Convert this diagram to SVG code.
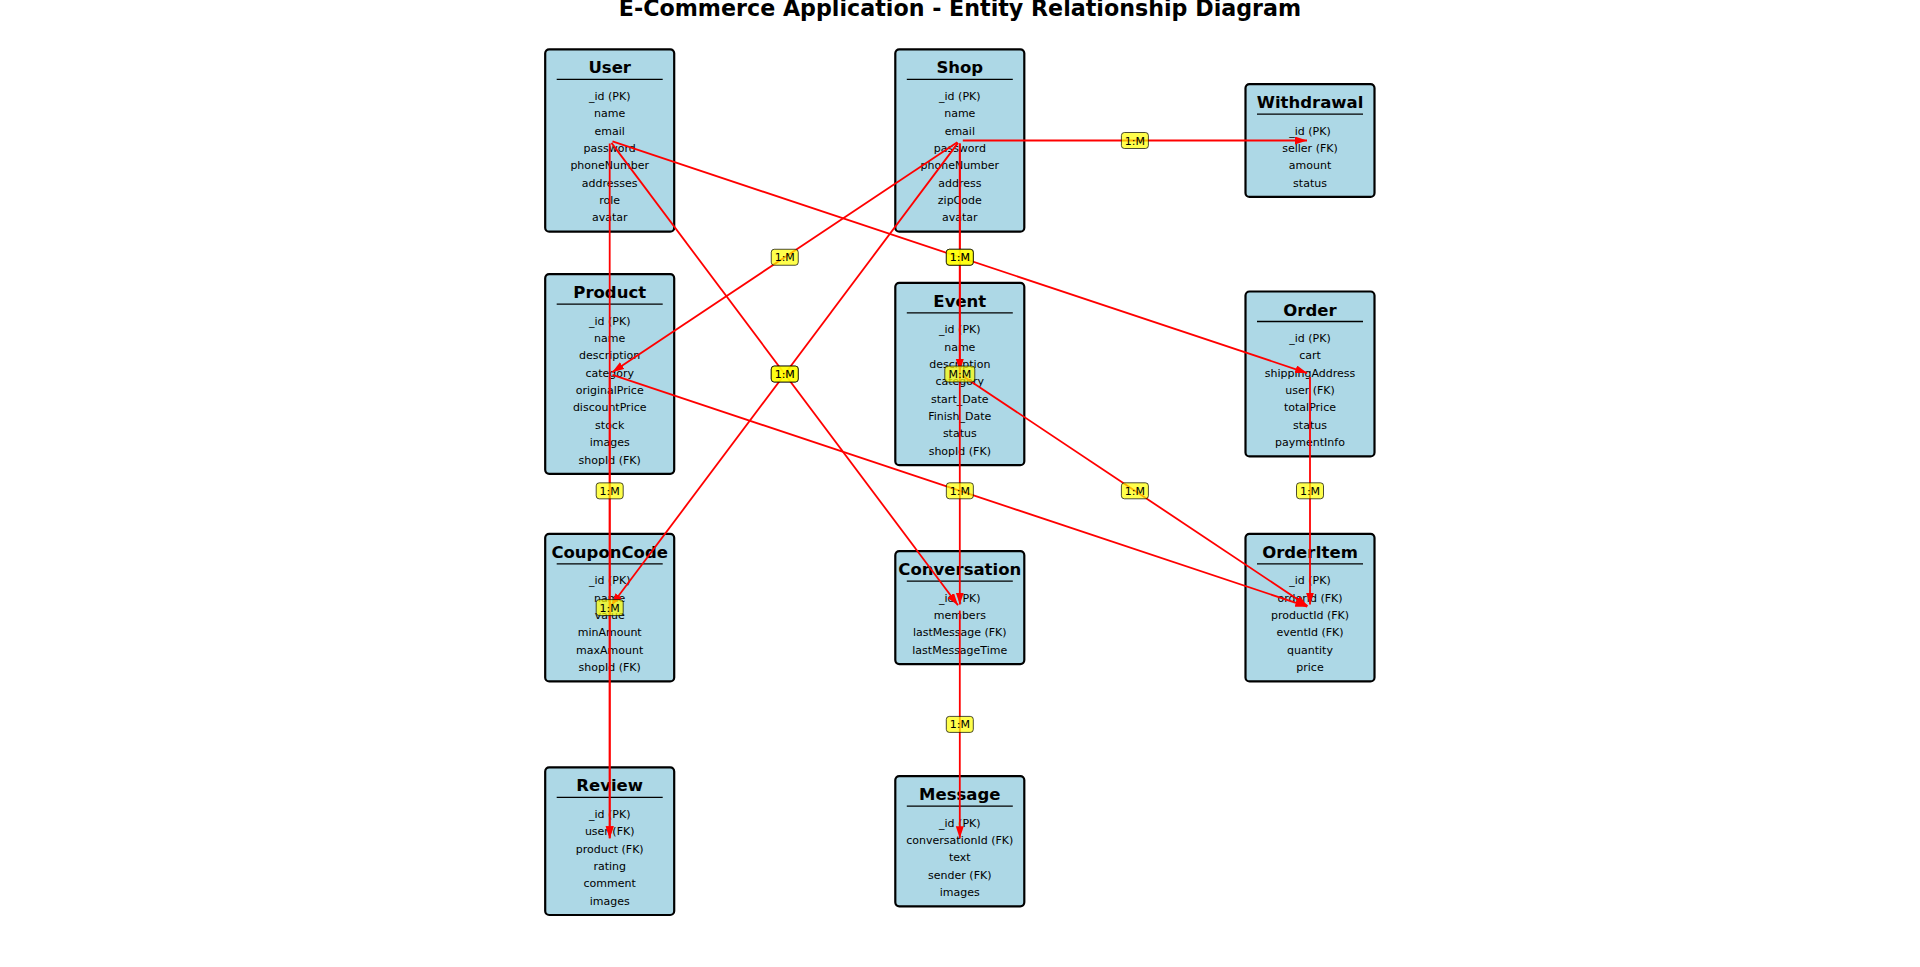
<svg xmlns="http://www.w3.org/2000/svg" width="1920" height="967" viewBox="0 0 1920 967">
<style>
.box{fill:#add8e6;stroke:#000;stroke-width:2.2}
.ul{stroke:#000;stroke-width:1.3}
.ttl{font-family:"DejaVu Sans",sans-serif;font-weight:bold;font-size:16.5px;text-anchor:middle;fill:#000}
.fld{font-family:"DejaVu Sans",sans-serif;font-size:11px;text-anchor:middle;fill:#000}
.ln{stroke:#ff0000;stroke-width:1.8;fill:none;marker-end:url(#ah)}
.lb{fill:#ffff00;fill-opacity:0.7;stroke:#000;stroke-opacity:0.7;stroke-width:1}
.lt{font-family:"DejaVu Sans",sans-serif;font-size:11px;text-anchor:middle;fill:#000}
.main{font-family:"DejaVu Sans",sans-serif;font-weight:bold;font-size:22.2px;text-anchor:middle;fill:#000}
</style>
<defs>
<marker id="ah" markerUnits="userSpaceOnUse" markerWidth="13" markerHeight="9" refX="12" refY="4" orient="auto"><path d="M0,0 L12,4 L0,8 z" fill="#ff0000"/></marker>
</defs>
<rect width="1920" height="967" fill="#fff"/>
<text class="main" x="960" y="16">E-Commerce Application - Entity Relationship Diagram</text>

<g id="User">
<rect class="box" x="545.2" y="49.35" width="129" height="182.3" rx="4"/>
<text class="ttl" x="609.7" y="73.35">User</text>
<line class="ul" x1="556.7" y1="79.35" x2="662.7" y2="79.35"/>
<text class="fld" x="609.7" y="99.85">_id (PK)</text>
<text class="fld" x="609.7" y="117.2">name</text>
<text class="fld" x="609.7" y="134.55">email</text>
<text class="fld" x="609.7" y="151.9">password</text>
<text class="fld" x="609.7" y="169.25">phoneNumber</text>
<text class="fld" x="609.7" y="186.6">addresses</text>
<text class="fld" x="609.7" y="203.95">role</text>
<text class="fld" x="609.7" y="221.3">avatar</text>
</g>

<g id="Shop">
<rect class="box" x="895.3" y="49.35" width="129" height="182.3" rx="4"/>
<text class="ttl" x="959.8" y="73.35">Shop</text>
<line class="ul" x1="906.8" y1="79.35" x2="1012.8" y2="79.35"/>
<text class="fld" x="959.8" y="99.85">_id (PK)</text>
<text class="fld" x="959.8" y="117.2">name</text>
<text class="fld" x="959.8" y="134.55">email</text>
<text class="fld" x="959.8" y="151.9">password</text>
<text class="fld" x="959.8" y="169.25">phoneNumber</text>
<text class="fld" x="959.8" y="186.6">address</text>
<text class="fld" x="959.8" y="203.95">zipCode</text>
<text class="fld" x="959.8" y="221.3">avatar</text>
</g>

<g id="Withdrawal">
<rect class="box" x="1245.5" y="84.05" width="129" height="112.9" rx="4"/>
<text class="ttl" x="1310" y="108.05">Withdrawal</text>
<line class="ul" x1="1257" y1="114.05" x2="1363" y2="114.05"/>
<text class="fld" x="1310" y="134.55">_id (PK)</text>
<text class="fld" x="1310" y="151.9">seller (FK)</text>
<text class="fld" x="1310" y="169.25">amount</text>
<text class="fld" x="1310" y="186.6">status</text>
</g>

<g id="Product">
<rect class="box" x="545.2" y="274.2" width="129" height="199.65" rx="4"/>
<text class="ttl" x="609.7" y="298.2">Product</text>
<line class="ul" x1="556.7" y1="304.2" x2="662.7" y2="304.2"/>
<text class="fld" x="609.7" y="324.7">_id (PK)</text>
<text class="fld" x="609.7" y="342.05">name</text>
<text class="fld" x="609.7" y="359.4">description</text>
<text class="fld" x="609.7" y="376.75">category</text>
<text class="fld" x="609.7" y="394.1">originalPrice</text>
<text class="fld" x="609.7" y="411.45">discountPrice</text>
<text class="fld" x="609.7" y="428.8">stock</text>
<text class="fld" x="609.7" y="446.15">images</text>
<text class="fld" x="609.7" y="463.5">shopId (FK)</text>
</g>

<g id="Event">
<rect class="box" x="895.3" y="282.85" width="129" height="182.3" rx="4"/>
<text class="ttl" x="959.8" y="306.85">Event</text>
<line class="ul" x1="906.8" y1="312.85" x2="1012.8" y2="312.85"/>
<text class="fld" x="959.8" y="333.35">_id (PK)</text>
<text class="fld" x="959.8" y="350.7">name</text>
<text class="fld" x="959.8" y="368.05">description</text>
<text class="fld" x="959.8" y="385.4">category</text>
<text class="fld" x="959.8" y="402.75">start_Date</text>
<text class="fld" x="959.8" y="420.1">Finish_Date</text>
<text class="fld" x="959.8" y="437.45">status</text>
<text class="fld" x="959.8" y="454.8">shopId (FK)</text>
</g>

<g id="Order">
<rect class="box" x="1245.5" y="291.5" width="129" height="164.95" rx="4"/>
<text class="ttl" x="1310" y="315.5">Order</text>
<line class="ul" x1="1257" y1="321.5" x2="1363" y2="321.5"/>
<text class="fld" x="1310" y="342">_id (PK)</text>
<text class="fld" x="1310" y="359.35">cart</text>
<text class="fld" x="1310" y="376.7">shippingAddress</text>
<text class="fld" x="1310" y="394.05">user (FK)</text>
<text class="fld" x="1310" y="411.4">totalPrice</text>
<text class="fld" x="1310" y="428.75">status</text>
<text class="fld" x="1310" y="446.1">paymentInfo</text>
</g>

<g id="CouponCode">
<rect class="box" x="545.2" y="533.8" width="129" height="147.6" rx="4"/>
<text class="ttl" x="609.7" y="557.8">CouponCode</text>
<line class="ul" x1="556.7" y1="563.8" x2="662.7" y2="563.8"/>
<text class="fld" x="609.7" y="584.3">_id (PK)</text>
<text class="fld" x="609.7" y="601.65">name</text>
<text class="fld" x="609.7" y="619">value</text>
<text class="fld" x="609.7" y="636.35">minAmount</text>
<text class="fld" x="609.7" y="653.7">maxAmount</text>
<text class="fld" x="609.7" y="671.05">shopId (FK)</text>
</g>

<g id="Conversation">
<rect class="box" x="895.3" y="551.15" width="129" height="112.9" rx="4"/>
<text class="ttl" x="959.8" y="575.15">Conversation</text>
<line class="ul" x1="906.8" y1="581.15" x2="1012.8" y2="581.15"/>
<text class="fld" x="959.8" y="601.65">_id (PK)</text>
<text class="fld" x="959.8" y="619">members</text>
<text class="fld" x="959.8" y="636.35">lastMessage (FK)</text>
<text class="fld" x="959.8" y="653.7">lastMessageTime</text>
</g>

<g id="OrderItem">
<rect class="box" x="1245.5" y="533.8" width="129" height="147.6" rx="4"/>
<text class="ttl" x="1310" y="557.8">OrderItem</text>
<line class="ul" x1="1257" y1="563.8" x2="1363" y2="563.8"/>
<text class="fld" x="1310" y="584.3">_id (PK)</text>
<text class="fld" x="1310" y="601.65">orderId (FK)</text>
<text class="fld" x="1310" y="619">productId (FK)</text>
<text class="fld" x="1310" y="636.35">eventId (FK)</text>
<text class="fld" x="1310" y="653.7">quantity</text>
<text class="fld" x="1310" y="671.05">price</text>
</g>

<g id="Review">
<rect class="box" x="545.2" y="767.4" width="129" height="147.6" rx="4"/>
<text class="ttl" x="609.7" y="791.4">Review</text>
<line class="ul" x1="556.7" y1="797.4" x2="662.7" y2="797.4"/>
<text class="fld" x="609.7" y="817.9">_id (PK)</text>
<text class="fld" x="609.7" y="835.25">user (FK)</text>
<text class="fld" x="609.7" y="852.6">product (FK)</text>
<text class="fld" x="609.7" y="869.95">rating</text>
<text class="fld" x="609.7" y="887.3">comment</text>
<text class="fld" x="609.7" y="904.65">images</text>
</g>

<g id="Message">
<rect class="box" x="895.3" y="776.1" width="129" height="130.25" rx="4"/>
<text class="ttl" x="959.8" y="800.1">Message</text>
<line class="ul" x1="906.8" y1="806.1" x2="1012.8" y2="806.1"/>
<text class="fld" x="959.8" y="826.6">_id (PK)</text>
<text class="fld" x="959.8" y="843.95">conversationId (FK)</text>
<text class="fld" x="959.8" y="861.3">text</text>
<text class="fld" x="959.8" y="878.65">sender (FK)</text>
<text class="fld" x="959.8" y="896">images</text>
</g>

<g id="connectors">
<line class="ln" x1="612.5" y1="141.45" x2="1307.2" y2="373.05"/>
<line class="ln" x1="609.7" y1="143.5" x2="609.7" y2="838.2"/>
<line class="ln" x1="611.5" y1="142.9" x2="958.0" y2="605.2"/>
<line class="ln" x1="957.3" y1="142.2" x2="612.2" y2="372.3"/>
<line class="ln" x1="959.8" y1="143.5" x2="959.8" y2="371"/>
<line class="ln" x1="958.0" y1="142.9" x2="611.5" y2="605.2"/>
<line class="ln" x1="962.8" y1="140.5" x2="1307" y2="140.5"/>
<line class="ln" x1="959.8" y1="143.5" x2="959.8" y2="604.6"/>
<line class="ln" x1="609.7" y1="377" x2="609.7" y2="838.2"/>
<line class="ln" x1="612.5" y1="374.95" x2="1307.2" y2="606.65"/>
<line class="ln" x1="1310" y1="377" x2="1310" y2="604.6"/>
<line class="ln" x1="962.3" y1="375.7" x2="1307.5" y2="605.9"/>
<line class="ln" x1="959.8" y1="610.6" x2="959.8" y2="838.2"/>

<rect class="lb" x="946.35" y="249.25" width="27" height="16" rx="3"/><text class="lt" x="959.85" y="261.25">1:M</text>
<rect class="lb" x="596.2" y="482.85" width="27" height="16" rx="3"/><text class="lt" x="609.7" y="494.85">1:M</text>
<rect class="lb" x="771.25" y="366.05" width="27" height="16" rx="3"/><text class="lt" x="784.75" y="378.05">1:M</text>
<rect class="lb" x="771.25" y="249.25" width="27" height="16" rx="3"/><text class="lt" x="784.75" y="261.25">1:M</text>
<rect class="lb" x="946.3" y="249.25" width="27" height="16" rx="3"/><text class="lt" x="959.8" y="261.25">1:M</text>
<rect class="lb" x="771.25" y="366.05" width="27" height="16" rx="3"/><text class="lt" x="784.75" y="378.05">1:M</text>
<rect class="lb" x="1121.4" y="132.5" width="27" height="16" rx="3"/><text class="lt" x="1134.9" y="144.5">1:M</text>
<rect class="lb" x="944.8" y="366.05" width="30" height="16" rx="3"/><text class="lt" x="959.8" y="378.05">M:M</text>
<rect class="lb" x="596.2" y="599.6" width="27" height="16" rx="3"/><text class="lt" x="609.7" y="611.6">1:M</text>
<rect class="lb" x="946.35" y="482.8" width="27" height="16" rx="3"/><text class="lt" x="959.85" y="494.8">1:M</text>
<rect class="lb" x="1296.5" y="482.8" width="27" height="16" rx="3"/><text class="lt" x="1310" y="494.8">1:M</text>
<rect class="lb" x="1121.4" y="482.8" width="27" height="16" rx="3"/><text class="lt" x="1134.9" y="494.8">1:M</text>
<rect class="lb" x="946.3" y="716.4" width="27" height="16" rx="3"/><text class="lt" x="959.8" y="728.4">1:M</text>
</g>
</svg>
